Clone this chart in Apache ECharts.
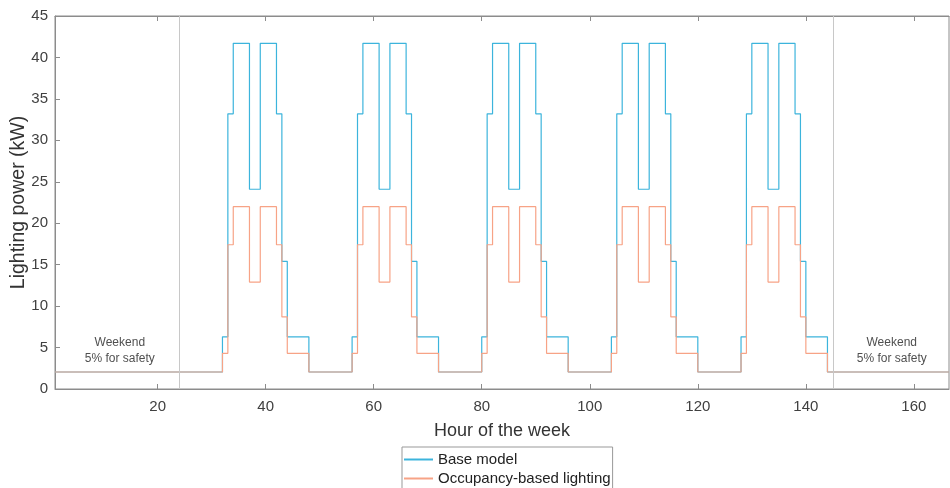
<!DOCTYPE html>
<html>
<head>
<meta charset="utf-8">
<script src="https://cdn.jsdelivr.net/npm/echarts@6/dist/echarts.min.js"></script>
<style>
  html, body { margin: 0; padding: 0; background: #fff; }
  #chart { width: 950px; height: 488px; }
</style>
</head>
<body>
<div id="chart"></div>
<script>
// hours where the lighting level changes (value holds until the next hour in the list)
const changeHours = [1,
  32, 33, 34, 37, 39, 42, 43, 44, 48,
  56, 57, 58, 61, 63, 66, 67, 68, 72,
  80, 81, 82, 85, 87, 90, 91, 92, 96,
  104, 105, 106, 109, 111, 114, 115, 116, 120,
  128, 129, 130, 133, 135, 138, 139, 140, 144,
  166.5]
// base model (kW)
const baseKW = [2.05,
  6.3, 33.2, 41.7, 24.1, 41.7, 33.2, 15.4, 6.3, 2.05,
  6.3, 33.2, 41.7, 24.1, 41.7, 33.2, 15.4, 6.3, 2.05,
  6.3, 33.2, 41.7, 24.1, 41.7, 33.2, 15.4, 6.3, 2.05,
  6.3, 33.2, 41.7, 24.1, 41.7, 33.2, 15.4, 6.3, 2.05,
  6.3, 33.2, 41.7, 24.1, 41.7, 33.2, 15.4, 6.3, 2.05,
  2.05]
// occupancy-based lighting (kW)
const occupancyKW = [2.05,
  4.3, 17.4, 22, 12.9, 22, 17.4, 8.7, 4.3, 2.05,
  4.3, 17.4, 22, 12.9, 22, 17.4, 8.7, 4.3, 2.05,
  4.3, 17.4, 22, 12.9, 22, 17.4, 8.7, 4.3, 2.05,
  4.3, 17.4, 22, 12.9, 22, 17.4, 8.7, 4.3, 2.05,
  4.3, 17.4, 22, 12.9, 22, 17.4, 8.7, 4.3, 2.05,
  2.05]
const xTicks = [20, 40, 60, 80, 100, 120, 140, 160]
const weekdayBounds = [24, 145]
const noteSpots = [[13, 4.67], [155.9, 4.67]]

const chart = echarts.init(document.getElementById('chart'))

const axisGray = '#8c8c8c'
const font = 'Liberation Sans, Arial, sans-serif'

const option = {
  backgroundColor: '#fff',
  animation: false,
  textStyle: { fontFamily: font },
  grid: {
    left: 55, top: 16, width: 894, height: 373,
    containLabel: false,
    outerBoundsMode: 'none',
    show: true, borderColor: axisGray, borderWidth: 1
  },
  legend: {
    data: ['Base model', 'Occupancy-based lighting'],
    orient: 'vertical',
    left: 402, top: 447,
    height: 36,
    padding: [5, 2, 5, 2],
    itemGap: 4,
    itemWidth: 29, itemHeight: 2,
    icon: 'rect',
    borderColor: '#999', borderWidth: 1,
    textStyle: { fontSize: 15, color: '#222', fontFamily: font }
  },
  xAxis: [
    {
      type: 'value', min: 1, max: 166.5,
      name: 'Hour of the week', nameLocation: 'middle', nameGap: 33,
      nameMoveOverlap: false,
      nameTextStyle: { fontSize: 18, color: '#333' },
      axisLine: { show: true, lineStyle: { color: axisGray } },
      axisTick: { show: true, inside: true, length: 5, customValues: xTicks, lineStyle: { color: axisGray } },
      axisLabel: { customValues: xTicks, fontSize: 15, color: '#404040', margin: 10 },
      splitLine: { show: false }
    },
    {
      type: 'value', min: 1, max: 166.5, position: 'top',
      axisLine: { show: true, lineStyle: { color: axisGray } },
      axisTick: { show: true, inside: true, length: 5, customValues: xTicks, lineStyle: { color: axisGray } },
      axisLabel: { show: false },
      splitLine: { show: false }
    }
  ],
  yAxis: {
    type: 'value', min: 0, max: 45, interval: 5,
    name: 'Lighting power (kW)', nameLocation: 'middle', nameGap: 26,
    nameMoveOverlap: false,
    nameTextStyle: { fontSize: 19.5, color: '#333' },
    axisLine: { show: true, lineStyle: { color: axisGray } },
    axisTick: { show: true, inside: true, length: 5, lineStyle: { color: axisGray } },
    axisLabel: { fontSize: 15, color: '#404040', margin: 7 },
    splitLine: { show: false }
  },
  series: [
    {
      name: 'Base model',
      type: 'line',
      step: 'end',
      showSymbol: false,
      data: changeHours.map((h, i) => [h, baseKW[i]]),
      lineStyle: { width: 1.2, color: '#3cb4dc' },
      itemStyle: { color: '#3cb4dc' },
      markLine: {
        silent: true,
        symbol: 'none',
        label: { show: false },
        lineStyle: { color: '#c8c8c8', type: 'solid', width: 1 },
        data: weekdayBounds.map((h) => ({ xAxis: h }))
      }
    },
    {
      name: 'Occupancy-based lighting',
      type: 'line',
      step: 'end',
      showSymbol: false,
      data: changeHours.map((h, i) => [h, occupancyKW[i]]),
      lineStyle: { width: 1.2, color: '#f7a386' },
      itemStyle: { color: '#f7a386' }
    },
    {
      // weekend notes
      type: 'scatter',
      symbolSize: 0,
      silent: true,
      data: noteSpots,
      label: {
        show: true,
        position: 'inside',
        formatter: 'Weekend\n5% for safety',
        fontSize: 12,
        lineHeight: 16,
        color: '#222',
        align: 'center'
      }
    }
  ]
}

chart.setOption(option)
</script>
</body>
</html>
